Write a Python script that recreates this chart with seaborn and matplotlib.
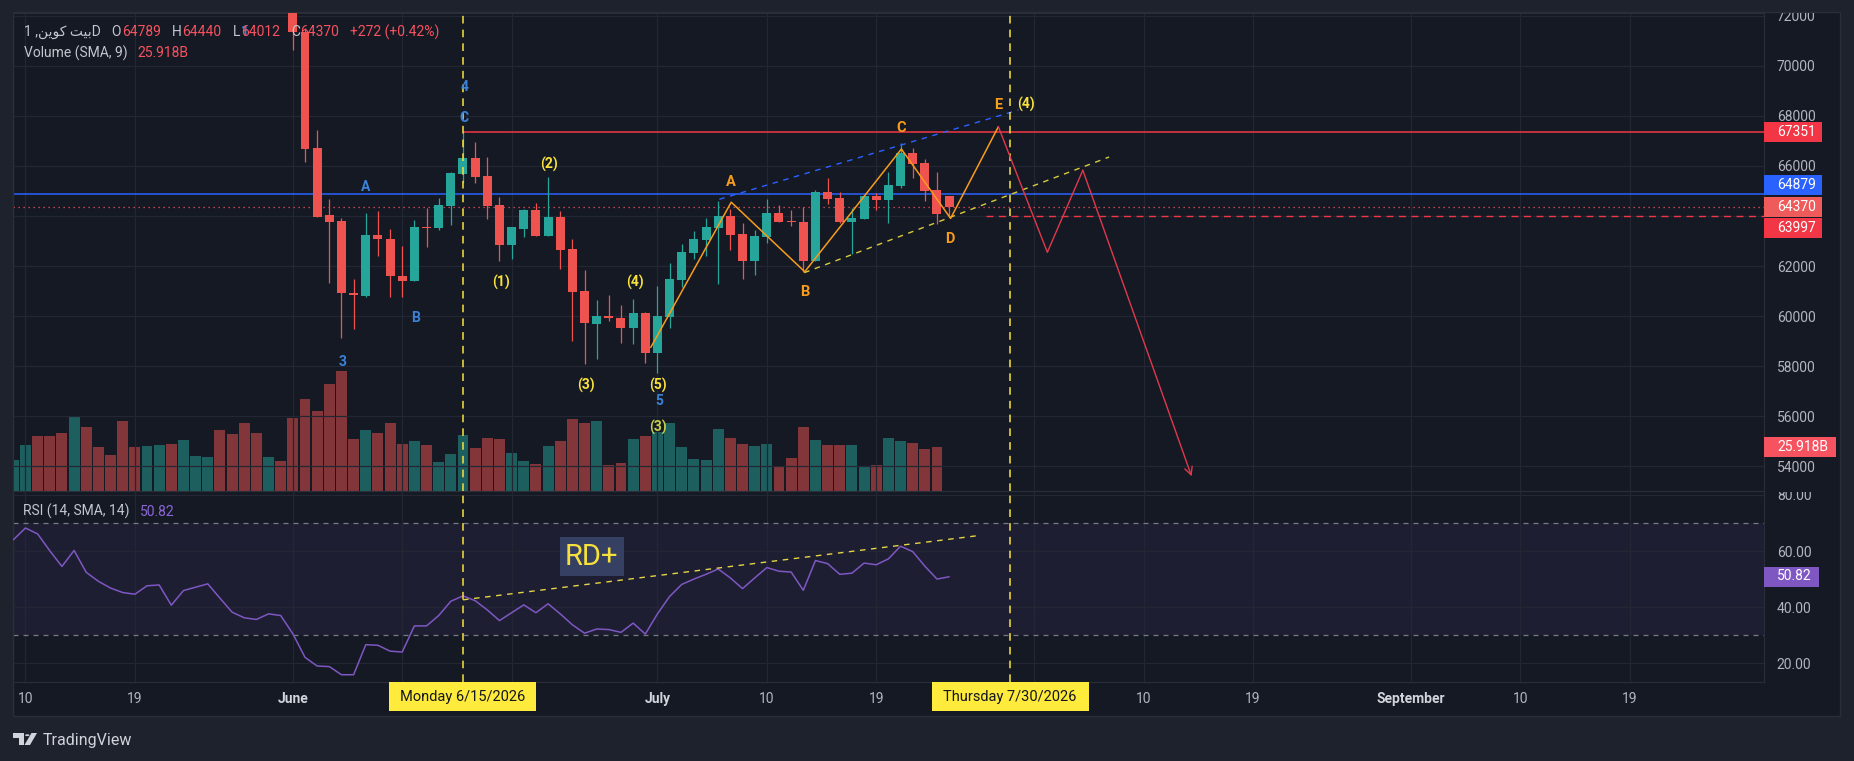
import numpy as np
import pandas as pd
import matplotlib
matplotlib.use("Agg")
import matplotlib.pyplot as plt
import matplotlib.dates as mdates
from matplotlib.patches import Rectangle, Polygon, Circle
from matplotlib.transforms import Bbox, TransformedBbox
import seaborn as sns

# ---------------- data ----------------
candle_start = "2026-06-01"
opens = [72900, 71330, 66700, 64030, 63790, 60930, 60810, 63240, 63080, 61620,
         61410, 63540, 63500, 64410, 65670, 66310, 65590, 64430, 62840, 63480,
         64230, 63200, 63940, 62660, 61000, 59670, 60000, 59910, 59510, 60110,
         58540, 59980, 61440, 62530, 63040, 63520, 63990, 63280, 62200, 63160,
         64100, 63790, 63740, 62200, 64940, 64700, 63770, 63870, 64790, 64630,
         65210, 66500, 66100, 65030, 64789]
highs = [73400, 71500, 67430, 64670, 63900, 61470, 64100, 64190, 63460, 62800,
         63830, 64330, 64700, 65750, 67351, 66940, 66340, 64740, 63560, 64290,
         64530, 65540, 64190, 63080, 61860, 60640, 60840, 60440, 60670, 60150,
         61200, 62100, 62880, 63400, 63900, 64590, 64270, 63730, 63440, 64670,
         64430, 64230, 64340, 65030, 65500, 64940, 64300, 64800, 64900, 65740,
         66900, 66700, 66260, 65740, 64800]
lows = [70620, 66140, 63950, 61330, 59110, 59480, 60750, 62400, 60770, 60770,
        61400, 62770, 63440, 63640, 65330, 65330, 63870, 62210, 62290, 63170,
        63190, 63190, 61890, 59020, 58070, 58270, 59820, 58910, 58870, 58110,
        57740, 59540, 61170, 62280, 62400, 61280, 62640, 61480, 61640, 62930,
        63760, 63590, 61770, 62190, 64460, 63700, 62480, 63860, 64230, 63730,
        65130, 65500, 64590, 63670, 64012]
closes = [71330, 66670, 63970, 63770, 60910, 60830, 63240, 63060, 61610, 61410,
          63540, 63500, 64430, 65700, 66310, 65560, 64410, 62840, 63540, 64230,
          63200, 63940, 62640, 60970, 59710, 60000, 59910, 59510, 60110, 58510,
          60000, 61480, 62540, 63080, 63540, 63990, 63240, 62200, 63200, 64100,
          63770, 63740, 62200, 64940, 64670, 63770, 63900, 64790, 64630, 65230,
          66520, 66070, 64990, 64070, 64370]

# volume in billions, 2026-05-09 .. 2026-07-24
vol_start = "2026-05-09"
volumes_b = [18.2, 27.1, 32.4, 32.4, 34.2, 43.7, 37.8, 25.9, 21.2, 41.3,
             25.9, 26.5, 27.1, 27.7, 30.1, 20.6, 20.0, 36.0, 33.6, 40.1,
             34.2, 20.0, 17.6,
             43.3, 54.4, 47.3, 63.3, 71.0, 30.7, 36.0, 34.2, 40.1, 27.7,
             29.5, 27.1, 17.0, 21.8, 33.0, 25.3, 31.3, 30.7, 22.4, 17.6,
             15.8, 26.5, 29.5, 42.5, 40.1, 41.3, 15.2, 16.4, 30.7, 32.4,
             35.0, 40.1, 25.9, 18.8, 18.2, 36.6, 31.3, 27.7, 26.5, 27.7,
             14.1, 19.4, 37.8, 30.1, 27.1, 27.1, 27.1, 14.6, 15.2, 31.3,
             29.5, 28.3, 24.7, 25.918]
# up/down colour of the May volume bars (candles themselves are above the view)
may_vol_up = [1, 1, 0, 0, 0, 1, 0, 0, 0, 0, 0, 1, 1, 0, 1, 1, 1, 0, 0, 0, 0, 1, 0]

# RSI(14), 2026-05-09 .. 2026-07-25
rsi_start = "2026-05-09"
rsi = [64.0, 68.2, 66.1, 60.1, 54.5, 60.2, 52.4, 49.2, 46.8, 45.2, 44.6, 47.6,
       47.9, 40.7, 45.9, 47.1, 48.3, 43.2, 38.2, 36.2, 35.6, 37.6, 37.0,
       30.5, 22.1, 19.0, 18.8, 15.9, 15.9, 26.6, 26.4, 24.3, 24.0, 33.3, 33.3,
       37.0, 42.1, 44.0, 42.3, 39.0, 35.2, 38.0, 40.8, 38.0, 41.2, 37.6, 33.7,
       30.7, 32.2, 32.0, 31.0, 34.3, 30.4,
       37.6, 43.8, 48.1, 50.0, 51.7, 53.6, 50.4, 46.6, 50.4, 54.1, 52.8, 52.5,
       46.0, 56.6, 55.5, 51.7, 52.1, 55.7, 55.1, 57.2, 61.7, 59.8, 54.6, 50.0,
       50.82]

# time axis: grid dates; labels hidden under the date boxes are left blank
tick_dates = ["2026-05-10", "2026-05-19", "2026-06-01", "2026-06-10", "2026-06-19",
              "2026-07-01", "2026-07-10", "2026-07-19", "2026-08-01", "2026-08-10",
              "2026-08-19", "2026-09-01", "2026-09-10", "2026-09-19"]
tick_labels = ["10", "19", "June", "", "", "July", "10", "19", "",
               "10", "19", "September", "10", "19"]
month_labels = ["June", "July", "August", "September"]
price_ticks = list(range(54000, 72001, 2000))
hidden_price_ticks = [64000]      # covered by the price boxes
rsi_ticks = [20, 40, 60, 80]

# horizontal levels
level_red = 67351
level_blue = 64879
last_close = 64370
level_dash = 63997
last_volume = "25.918B"
last_rsi = 50.82

# drawings: day offsets from 2026-06-01 and prices
zigzag_days = [29.45, 36.07, 42.12, 50.07, 54.12, 58.05]
zigzag_price = [58750, 64547, 61771, 66669, 63900, 67561]
proj_days = [58.05, 62.08, 65.0, 73.95]
proj_price = [67561, 62547, 65824, 53604]
upper_days = [35.09, 59.7]
upper_price = [64663, 68228]
lower_days = [42.08, 67.16]
lower_price = [61733, 66351]
rsi_trend_days = [14.0, 56.6]
rsi_trend_vals = [42.6, 65.6]
marker_days = [14, 59]          # Jun 15 and Jul 30
red_level_from = 14
dash_level_from = 57.0

blue_labels = [("1", -3.95, 71341), ("A", 6.0, 65142), ("B", 10.07, 59912),
               ("3", 4.09, 58180), ("4", 14.1, 69134), ("C", 14.1, 67920),
               ("5", 30.12, 56611)]
yellow_labels = [("(2)", 21.09, 66060), ("(1)", 17.09, 61333), ("(3)", 24.09, 57222),
                 ("(4)", 28.12, 61333), ("(5)", 30.07, 57222), ("(4)", 60.3, 68455)]
faded_labels = [("(3)", 30.07, 55545)]
orange_labels = [("A", 36.02, 65341), ("B", 42.08, 60950), ("C", 50.07, 67521),
                 ("D", 54.07, 63078), ("E", 58.05, 68427)]

# ---------------- style ----------------
sns.set_style("dark")
plt.rcParams['font.family'] = ['Roboto', 'DejaVu Sans']

OUTER = '#1e222d'
BG = '#151924'
BORDER = '#2a2e39'
GRID = '#232733'
TXT = '#b2b5be'
GREEN = '#26a69a'
RED = '#ef5350'
TRED = '#f7525f'
YEL = '#f9e23c'
ORANGE = '#f89c1c'
BLUE_LBL = '#3b82d6'
PURPLE = '#7e57c2'

W, H = 1854, 761
fig = plt.figure(figsize=(W / 100, H / 100), dpi=100, facecolor=OUTER)


def fx(px):
    return px / W


def fy(py):
    return 1 - py / H


fig.add_artist(Rectangle((fx(12.7), fy(716)), fx(1840) - fx(12.7), fy(12.3) - fy(716),
                         facecolor=BG, edgecolor=BORDER, lw=1, zorder=-5))

ax = fig.add_axes([fx(12.7), fy(490.7), fx(1764.3) - fx(12.7), fy(13.3) - fy(490.7)])
axr = fig.add_axes([fx(12.7), fy(682.3), fx(1764.3) - fx(12.7), fy(490.7) - fy(682.3)],
                   sharex=ax)
vax = ax.twinx()
ax.set_zorder(3)
vax.set_zorder(2)
for a in (ax, axr, vax):
    a.patch.set_visible(False)

base = mdates.date2num(pd.Timestamp(candle_start))
xmin, xmax = base - 23.05, base + 121.07

# ---------------- volume ----------------
vx = mdates.date2num(pd.date_range(vol_start, periods=len(volumes_b)))
o = np.array(opens)
c = np.array(closes)
candle_up = list((c >= o).astype(int))
vol_up = may_vol_up + candle_up[:len(volumes_b) - len(may_vol_up)]
vcol = [GREEN if u else RED for u in vol_up]
vax.bar(vx, volumes_b, width=0.9, color=vcol, alpha=0.5, linewidth=0)
vax.set_ylim(0, 283.1)
vax.set_yticks([])
for s in vax.spines.values():
    s.set_visible(False)

# ---------------- candles ----------------
cx = mdates.date2num(pd.date_range(candle_start, periods=len(opens)))
ccol = [GREEN if u else RED for u in candle_up]
ax.vlines(cx, lows, highs, colors=ccol, lw=0.9, zorder=3)
ax.bar(cx, np.maximum(np.abs(c - o), 45), bottom=np.minimum(o, c), width=0.74,
       color=ccol, linewidth=0, zorder=4)

# levels
ax.hlines(level_red, base + red_level_from, xmax, color='#f23645', lw=1.1, zorder=2)
ax.axhline(level_blue, color='#2962ff', lw=1.1, zorder=2)
ax.axhline(last_close, color=TRED, lw=0.9, ls=(0, (1, 3)), zorder=2)
ax.hlines(level_dash, base + dash_level_from, xmax, color='#f23645', lw=1.0,
          ls=(0, (5, 4)), zorder=2)

# pattern drawings
ax.plot(base + np.array(upper_days), upper_price, color='#2962ff', lw=1.0, ls=(0, (4, 4)), zorder=5)
ax.plot(base + np.array(lower_days), lower_price, color='#d8cc3c', lw=1.0, ls=(0, (4, 4)), zorder=5)
ax.plot(base + np.array(zigzag_days), zigzag_price, color=ORANGE, lw=1.1, zorder=6)
ax.plot(base + np.array(proj_days[:3]), proj_price[:3], color='#e0384d', lw=1.0, zorder=6)
ax.annotate('', xy=(base + proj_days[3], proj_price[3]),
            xytext=(base + proj_days[2], proj_price[2]),
            arrowprops=dict(arrowstyle='->', color='#e0384d', lw=1.0,
                            shrinkA=0, shrinkB=0, mutation_scale=14), zorder=6)

for d in marker_days:
    ax.axvline(base + d, color=YEL, lw=1.1, ls=(0, (5, 4)), zorder=5)
    axr.axvline(base + d, color=YEL, lw=1.1, ls=(0, (5, 4)), zorder=5)

for txt, d, p in blue_labels:
    ax.text(base + d, p, txt, color=BLUE_LBL, fontsize=10, fontweight='bold',
            ha='center', va='center', zorder=7)
for txt, d, p in yellow_labels:
    ax.text(base + d, p, txt, color=YEL, fontsize=10, fontweight='bold',
            ha='center', va='center', zorder=7)
for txt, d, p in faded_labels:
    ax.text(base + d, p, txt, color='#c7d04a', fontsize=10, fontweight='bold',
            ha='center', va='center', zorder=7)
for txt, d, p in orange_labels:
    ax.text(base + d, p, txt, color=ORANGE, fontsize=10.5, fontweight='bold',
            ha='center', va='center', zorder=7)

ax.set_xlim(xmin, xmax)
ax.set_ylim(53030, 72088)
ax.set_yticks(price_ticks)
ax.set_yticklabels(["" if v in hidden_price_ticks else str(v) for v in price_ticks])
ax.yaxis.tick_right()
ax.tick_params(axis='y', length=0, pad=9, labelsize=10, labelcolor=TXT)
ax.tick_params(axis='x', length=0, labelbottom=False)
ax.grid(True, color=GRID, lw=0.9)
for s in ax.spines.values():
    s.set_color(BORDER)

# ---------------- RSI ----------------
rx = mdates.date2num(pd.date_range(rsi_start, periods=len(rsi)))
axr.axhspan(30, 70, color=PURPLE, alpha=0.09, lw=0, zorder=0)
for lvl in (30, 70):
    axr.axhline(lvl, color='#787b86', lw=0.9, ls=(0, (4, 4)), zorder=1)
sns.lineplot(x=rx, y=rsi, ax=axr, color=PURPLE, lw=1.1, zorder=4)
axr.plot(base + np.array(rsi_trend_days), rsi_trend_vals, color='#e5d544',
         lw=1.0, ls=(0, (4, 4)), zorder=5)
axr.text(base + 24.6, 57.96, "RD+", color='#f5e03c', fontsize=21, ha='center',
         va='center', zorder=6,
         bbox=dict(boxstyle='square,pad=0.18', fc='#364063', ec='none'))
axr.set_ylim(13.2, 81.5)
axr.set_yticks(rsi_ticks)
axr.set_yticklabels([f"{v:.2f}" for v in rsi_ticks])
axr.yaxis.tick_right()
axr.tick_params(axis='y', length=0, pad=9, labelsize=10, labelcolor=TXT)
axr.set_xlabel('')
axr.set_ylabel('')
tx = mdates.date2num(pd.to_datetime(tick_dates))
axr.set_xticks(tx)
axr.set_xticklabels(tick_labels)
axr.tick_params(axis='x', length=0, pad=7, labelsize=10, labelcolor=TXT)
for lab in axr.get_xticklabels():
    if lab.get_text() in month_labels:
        lab.set_fontweight('bold')
        lab.set_color('#d1d4dc')
axr.grid(True, color=GRID, lw=0.9)
for s in axr.spines.values():
    s.set_color(BORDER)
axr.set_xlim(xmin, xmax)

# scale labels are cut at the pane edges, as on the chart
price_clip = TransformedBbox(Bbox([[0, fy(490.7)], [1, fy(13.3)]]), fig.transFigure)
rsi_clip = TransformedBbox(Bbox([[0, fy(682.3)], [1, fy(491.5)]]), fig.transFigure)
for lab in ax.get_yticklabels():
    lab.set_clip_box(price_clip)
    lab.set_clip_on(True)
for lab in axr.get_yticklabels():
    lab.set_clip_box(rsi_clip)
    lab.set_clip_on(True)

# ---------------- price scale boxes ----------------


def scale_box(text, cy, color, w=58):
    fig.add_artist(Rectangle((fx(1764.3), fy(cy + 10)), w / W, 20 / H,
                             facecolor=color, edgecolor='none', zorder=10))
    fig.text(fx(1777), fy(cy), text, color='white', fontsize=10,
             ha='left', va='center', zorder=11)


scale_box(f"{level_red}", 132.3, '#f23645')
scale_box(f"{level_blue}", 185, '#2962ff')
scale_box(f"{last_close}", 207.3, '#ef5a5a')
scale_box(f"{level_dash}", 228, '#f23645')
scale_box(last_volume, 447.3, TRED, w=72)
scale_box(f"{last_rsi:.2f}", 576.5, PURPLE, w=55)

# date boxes on the time axis
for label, x0, x1 in [("Monday 6/15/2026", 389, 535.5),
                      ("Thursday 7/30/2026", 931.5, 1088.6)]:
    fig.add_artist(Rectangle((fx(x0), fy(711.3)), (x1 - x0) / W, 29.3 / H,
                             facecolor='#ffeb3b', edgecolor='none', zorder=10))
    fig.text(fx((x0 + x1) / 2), fy(697), label, color='#131722', fontsize=10.5,
             ha='center', va='center', zorder=11)

# ---------------- legend texts ----------------
renderer = fig.canvas.get_renderer()


def chain(x0, y, parts, size=10):
    x = x0
    for txt, col, gap in parts:
        x += gap
        t = fig.text(fx(x), fy(y), txt, color=col, fontsize=size,
                     ha='left', va='center', zorder=11)
        x = t.get_window_extent(renderer=renderer).x1


arabic = "\uFEE6\uFEF3\uFEEE\uFEDB \uFE96\uFEF4\uFE91"   # بيت كوين
chain(23.7, 32.3, [("1 ," + arabic + "D", '#c3c6ce', 0), ("O", '#c3c6ce', 11),
                   ("64789", TRED, 1), ("H", '#c3c6ce', 11), ("64440", TRED, 1),
                   ("L", '#c3c6ce', 11), ("64012", TRED, 1), ("C", '#c3c6ce', 11),
                   ("64370", TRED, 0), ("+272 (+0.42%)", TRED, 11)])
chain(23.7, 53.3, [("Volume (SMA, 9)", '#c3c6ce', 0), (last_volume, TRED, 10)])
chain(23.3, 511.7, [("RSI (14, SMA, 14)", '#c3c6ce', 0), (f"{last_rsi:.2f}", '#8b67d6', 10)])

# TradingView logo
fig.add_artist(Polygon([(fx(13.3), fy(733)), (fx(23.5), fy(733)), (fx(23.5), fy(745)),
                        (fx(18.5), fy(745)), (fx(18.5), fy(737.5)), (fx(13.3), fy(737.5))],
                       closed=True, facecolor='#d1d4dc', edgecolor='none', zorder=10))
fig.add_artist(Circle((fx(27.3), fy(735.2)), 2.2 / W, facecolor='#d1d4dc',
                      edgecolor='none', zorder=10))
fig.add_artist(Polygon([(fx(31.5), fy(733)), (fx(37), fy(733)), (fx(30), fy(745)),
                        (fx(24.5), fy(745))],
                       closed=True, facecolor='#d1d4dc', edgecolor='none', zorder=10))
fig.text(fx(42.5), fy(741), "TradingView", color='#d1d4dc', fontsize=11.5,
         ha='left', va='center')

fig.savefig("out.png", dpi=100, facecolor=OUTER)
